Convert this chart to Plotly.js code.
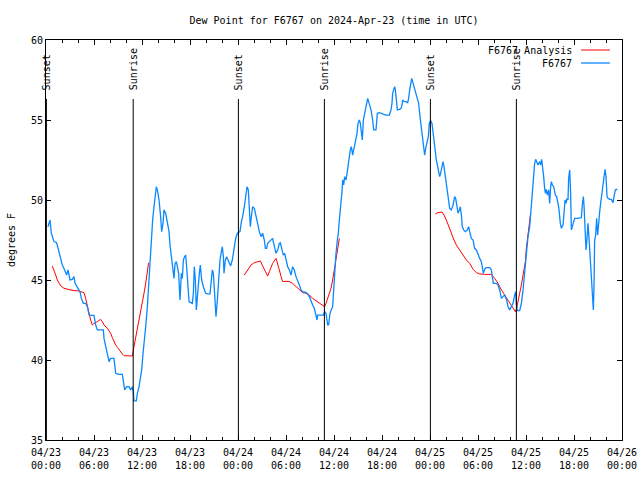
<!DOCTYPE html>
<html>
<head>
<meta charset="utf-8">
<script src="https://cdn.plot.ly/plotly-3.0.1.min.js"></script>
<style>html,body{margin:0;padding:0;background:#fff;}#chart{width:640px;height:480px;}</style>
</head>
<body>
<div id="chart"></div>
<script>
// Hours since 2024-04-23 00:00 UTC
const obsHours = [0.25,0.5,0.67,1.0,1.33,1.5,1.83,2.04,2.33,2.58,2.75,3.0,3.29,3.5,3.63,3.83,4.0,4.25,4.42,4.67,4.96,5.17,5.38,5.58,6.0,6.21,6.42,6.83,7.17,7.25,7.46,7.67,7.88,8.08,8.5,8.71,9.13,9.54,9.75,9.83,10.08,10.38,10.58,10.79,10.92,11.0,11.29,11.42,11.63,11.83,11.96,12.13,12.25,12.46,12.67,12.88,13.0,13.17,13.33,13.5,13.67,13.79,13.92,14.13,14.33,14.46,14.63,14.75,14.96,15.17,15.38,15.5,15.67,15.79,16.0,16.13,16.29,16.42,16.58,16.75,16.92,17.04,17.17,17.33,17.46,17.58,17.75,17.88,18.29,18.42,18.54,18.67,18.79,18.92,19.04,19.17,19.29,19.46,19.67,19.96,20.17,20.5,20.67,20.79,20.92,21.08,21.25,21.42,21.58,21.75,21.92,22.04,22.17,22.25,22.42,22.58,22.75,22.92,23.08,23.29,23.5,23.71,23.92,
24.08,24.25,24.42,24.58,24.79,25.0,25.13,25.29,25.42,25.54,25.67,25.83,26.04,26.25,26.46,26.67,26.88,27.08,27.29,27.42,27.58,27.71,27.92,28.13,28.33,28.46,28.63,28.75,28.96,29.17,29.29,29.46,29.67,29.83,30.0,30.21,30.42,30.63,30.83,31.04,31.25,31.46,31.67,31.88,32.08,32.5,32.71,32.92,33.13,33.33,33.54,33.75,33.88,33.96,34.38,34.67,34.83,35.0,35.21,35.33,35.5,35.67,35.83,35.96,36.13,36.25,36.42,36.54,36.67,36.79,36.92,37.0,37.08,37.21,37.33,37.5,37.63,37.75,37.92,38.04,38.17,38.33,38.46,38.58,38.75,38.88,39.0,39.17,39.29,39.42,39.54,39.67,39.79,39.92,40.08,40.21,40.33,40.5,40.63,40.83,40.96,41.25,41.42,41.67,42.08,42.5,42.92,43.13,43.25,43.33,43.46,43.58,43.67,43.79,43.92,44.17,44.38,44.5,44.58,44.79,45.0,45.21,45.33,45.46,45.58,45.71,45.83,45.96,46.08,46.25,46.38,46.58,46.75,46.88,47.0,47.17,47.33,47.5,47.67,47.79,47.92,48.08,48.25,48.38,48.58,
48.79,49.0,49.21,49.33,49.5,49.63,49.75,49.92,50.04,50.17,50.33,50.46,50.67,50.88,51.08,51.21,51.38,51.5,51.67,51.79,51.92,52.04,52.21,52.42,52.67,52.83,52.96,53.17,53.38,53.58,53.79,54.0,54.21,54.42,54.54,54.67,54.83,55.04,55.46,55.67,55.79,55.92,56.29,56.5,56.71,56.92,57.13,57.33,57.58,57.75,57.96,58.17,58.38,58.58,58.71,58.79,58.92,59.21,59.42,59.63,59.75,59.92,60.08,60.25,60.46,60.58,60.75,60.88,61.0,61.08,61.21,61.33,61.5,61.71,61.83,61.96,62.08,62.21,62.33,62.42,62.54,62.67,62.83,62.96,63.08,63.17,63.29,63.46,63.67,63.83,64.0,64.13,64.29,64.42,64.63,64.75,64.88,65.0,65.13,65.25,65.33,65.46,65.58,65.67,65.88,66.08,66.5,66.92,67.04,67.17,67.25,67.38,67.5,67.63,67.75,67.88,68.0,68.13,68.25,68.33,68.42,68.5,68.58,68.71,68.83,68.96,69.08,69.21,69.33,69.5,69.63,69.75,69.88,70.0,70.13,70.25,70.46,70.67,70.88,71.0,71.17,71.29,71.42];
const obsDew = [48.33,48.75,47.92,47.40,47.33,46.98,46.46,45.94,45.63,45.31,45.63,45.0,45.04,45.21,44.79,44.58,44.48,44.27,43.85,43.54,43.54,43.33,42.81,42.79,42.79,42.19,41.88,41.88,41.88,41.35,40.83,40.52,39.90,40.10,40.10,39.17,39.10,39.10,38.44,38.13,38.33,38.33,38.13,38.33,38.02,37.44,37.44,37.92,38.33,38.85,39.38,40.42,41.25,42.08,43.33,45.0,46.25,47.92,48.75,49.58,50.21,50.83,50.63,50.0,48.96,48.02,48.54,49.38,49.17,48.54,48.02,47.19,46.46,45.63,45.10,46.04,46.15,45.83,45.42,43.75,45.42,45.10,46.25,46.46,46.56,45.83,44.58,43.65,43.54,44.17,45.83,45.0,43.13,44.17,44.79,45.42,45.94,45.0,44.58,44.17,44.13,44.13,45.0,45.63,45.42,44.17,42.71,43.75,45.0,46.25,46.77,47.08,46.46,45.42,46.25,46.46,46.25,46.04,45.88,46.25,46.88,47.60,47.92,
47.96,48.02,48.65,48.96,49.58,50.21,50.83,50.63,49.58,48.33,48.96,49.58,49.48,48.96,48.54,48.02,47.71,47.92,47.50,46.98,46.98,47.29,47.40,47.50,47.60,47.29,46.98,46.67,46.88,47.29,47.33,46.98,46.56,46.67,46.25,45.83,45.63,45.31,45.83,45.63,45.21,45.0,44.69,44.38,44.27,44.23,44.13,43.96,43.65,43.44,43.23,42.71,42.50,42.81,42.81,42.81,43.02,42.92,42.19,42.19,42.92,43.13,43.33,44.38,45.83,46.67,47.50,47.92,48.75,49.27,50.0,50.52,51.25,50.94,51.46,51.25,51.67,52.29,52.71,53.13,53.33,52.81,53.13,53.54,53.75,54.17,54.79,55.0,54.79,54.38,53.75,55.0,55.31,55.83,56.25,56.35,56.15,55.83,55.63,55.0,54.38,54.38,55.42,55.46,55.38,55.31,55.31,55.63,56.04,56.67,56.88,57.08,56.88,56.04,55.63,55.67,55.73,55.94,56.25,56.15,56.15,56.08,56.35,56.88,57.29,57.60,57.40,57.19,56.92,56.67,56.46,56.04,55.21,54.58,53.96,53.33,52.81,53.33,53.65,53.96,54.79,54.96,54.79,54.17,53.33,
52.5,51.98,51.46,51.67,52.08,52.40,52.08,51.46,50.83,50.63,50.0,49.48,49.38,49.69,50.21,50.10,49.58,49.17,49.38,49.58,49.06,48.33,48.13,48.02,48.13,48.33,48.02,47.60,47.50,46.98,46.88,46.56,46.35,46.15,45.83,45.42,45.67,45.77,45.77,45.63,45.21,44.79,44.79,44.69,44.38,43.85,43.96,44.06,43.75,43.33,43.13,43.33,43.54,44.06,44.27,43.54,43.08,43.08,43.54,44.38,45.0,45.83,46.88,47.71,48.33,49.17,49.79,50.94,51.77,52.29,52.54,52.40,52.19,52.40,52.19,52.54,52.08,51.46,50.73,50.42,50.67,50.31,50.63,49.79,50.83,51.15,50.94,50.83,50.31,50.21,49.79,49.38,48.54,48.23,48.44,49.58,50.0,49.79,50.10,50.0,51.35,51.88,50.42,48.13,48.44,48.85,48.85,48.90,49.69,50.21,49.69,47.92,46.88,47.60,48.54,47.60,46.67,45.83,44.48,43.75,43.13,44.58,47.50,47.81,48.85,47.81,48.85,49.27,49.79,50.42,51.04,51.46,51.92,51.46,50.21,50.10,50.04,50.04,49.83,50.21,50.63,50.67,50.63];

const anaHours1 = [0.79,1.0,1.21,1.42,1.63,1.83,2.25,2.67,3.08,3.5,3.92,4.33,4.75,4.96,5.17,5.38,5.58,5.79,6.0,6.42,6.83,7.04,7.25,7.67,8.08,8.29,8.5,8.71,8.92,9.13,9.33,9.54,9.75,10.17,10.79,10.92,11.08,11.25,11.42,11.63,11.83,12.04,12.25,12.46,12.67,12.83];
const anaDew1 = [45.88,45.63,45.31,45.0,44.75,44.63,44.48,44.42,44.38,44.33,44.33,44.25,44.21,43.85,43.33,42.92,42.5,42.19,42.29,42.40,42.54,42.40,42.19,41.98,41.67,41.40,41.15,40.94,40.79,40.63,40.48,40.38,40.27,40.25,40.25,40.63,41.04,41.46,41.88,42.40,42.92,43.54,44.17,44.79,45.52,46.08];
const anaHours2 = [24.79,25.21,25.63,26.04,26.46,26.79,27.08,27.42,27.71,27.92,28.33,28.75,28.96,29.17,29.38,29.58,30.0,30.42,30.83,31.25,31.67,32.08,32.5,32.92,33.33,33.75,34.17,34.58,34.83,35.0,35.21,35.42,35.63,35.83,36.04,36.25,36.46,36.67];
const anaDew2 = [45.31,45.63,45.94,46.08,46.15,46.19,45.88,45.52,45.25,45.52,46.04,46.35,46.04,45.63,45.21,44.90,44.92,44.90,44.79,44.58,44.38,44.21,44.17,44.06,43.85,43.71,43.58,43.44,43.33,43.54,43.85,44.17,44.48,45.0,45.63,46.25,46.88,47.60];
const anaHours3 = [48.67,49.0,49.5,49.75,50.04,50.33,50.67,51.0,51.29,51.71,52.13,52.54,52.96,53.38,53.79,54.21,54.83,55.67,56.08,56.5,56.92,57.33,57.75,58.17,58.5,58.67,58.83,59.0,59.21,59.42,59.63,59.92,60.04,60.25,60.46,60.58];
const anaDew3 = [49.13,49.21,49.25,49.06,48.75,48.33,47.92,47.5,47.19,46.88,46.56,46.25,46.04,45.67,45.46,45.38,45.35,45.35,45.10,44.79,44.38,44.06,43.75,43.44,43.13,43.02,43.23,43.75,44.17,44.69,45.42,46.15,46.98,47.71,48.65,49.17];

const sunEventHours = [0.05, 10.9, 24.05, 34.8, 48.05, 58.8];
const sunEventLabels = ["Sunset", "Sunrise", "Sunset", "Sunrise", "Sunset", "Sunrise"];

const tickHours = [0,6,12,18,24,30,36,42,48,54,60,66,72];
const tickLabels = ["04/23<br>00:00","04/23<br>06:00","04/23<br>12:00","04/23<br>18:00","04/24<br>00:00","04/24<br>06:00","04/24<br>12:00","04/24<br>18:00","04/25<br>00:00","04/25<br>06:00","04/25<br>12:00","04/25<br>18:00","04/26<br>00:00"];
const yTicks = [35,40,45,50,55,60];

const FONT = "DejaVu Sans Mono, Liberation Mono, monospace";
const RED = "#ff0000", BLUE = "#0a88ff";

const redTrace = (x, y) => ({x, y, type: "scatter", mode: "lines", line: {color: RED, width: 1}, showlegend: false, hoverinfo: "skip"});
const traces = [
  redTrace(anaHours1, anaDew1),
  redTrace(anaHours2, anaDew2),
  redTrace(anaHours3, anaDew3),
  {x: obsHours, y: obsDew, type: "scatter", mode: "lines", line: {color: BLUE, width: 1.3}, showlegend: false, hoverinfo: "skip"}
];

const shapes = sunEventHours.map(h => ({type: "line", xref: "x", yref: "paper", x0: h, x1: h, y0: 0, y1: 0.8525, line: {color: "#000", width: 1}}));
shapes.push({type: "line", xref: "paper", yref: "paper", x0: 0.9288, x1: 0.979, y0: 0.975, y1: 0.975, line: {color: RED, width: 1}});
shapes.push({type: "line", xref: "paper", yref: "paper", x0: 0.9288, x1: 0.979, y0: 0.9425, y1: 0.9425, line: {color: BLUE, width: 1.3}});

const annotations = sunEventHours.map((h, i) => ({x: h, xref: "x", y: 0.87, yref: "paper", text: sunEventLabels[i], textangle: -90, showarrow: false, xanchor: "center", yanchor: "bottom", font: {family: FONT, size: 10, color: "#000"}}));
annotations.push({x: 0.9167, xref: "paper", y: 0.975, yref: "paper", text: "F6767 Analysis", showarrow: false, xanchor: "right", yanchor: "middle", font: {family: FONT, size: 10, color: "#000"}});
annotations.push({x: 0.9167, xref: "paper", y: 0.9425, yref: "paper", text: "F6767", showarrow: false, xanchor: "right", yanchor: "middle", font: {family: FONT, size: 10, color: "#000"}});

const layout = {
  width: 640, height: 480,
  margin: {l: 46, r: 18, t: 40, b: 40},
  paper_bgcolor: "#fff", plot_bgcolor: "#fff",
  font: {family: FONT, size: 10, color: "#000"},
  title: {text: "Dew Point for F6767 on 2024-Apr-23 (time in UTC)", x: 0.5, xref: "paper", y: 0.958, yanchor: "middle", font: {family: FONT, size: 10, color: "#000"}},
  showlegend: false,
  xaxis: {
    type: "linear", range: [0, 72], tickvals: tickHours, ticktext: tickLabels,
    ticks: "inside", ticklen: 5, tickcolor: "#000", tickwidth: 1, ticklabelstandoff: 3,
    minor: {dtick: 2, tick0: 0, ticks: "inside", ticklen: 3, tickcolor: "#000", tickwidth: 1},
    showline: true, linecolor: "#000", linewidth: 1, mirror: "allticks",
    showgrid: false, zeroline: false, tickfont: {family: FONT, size: 10, color: "#000"}
  },
  yaxis: {
    range: [35, 60], tickvals: yTicks,
    ticks: "inside", ticklen: 5, tickcolor: "#000", tickwidth: 1,
    showline: true, linecolor: "#000", linewidth: 1, mirror: "allticks",
    showgrid: false, zeroline: false, tickfont: {family: FONT, size: 10, color: "#000"},
    title: {text: "degrees F", standoff: 13, font: {family: FONT, size: 10, color: "#000"}}
  },
  shapes, annotations
};

Plotly.newPlot("chart", traces, layout, {staticPlot: true, displayModeBar: false});
</script>
</body>
</html>
